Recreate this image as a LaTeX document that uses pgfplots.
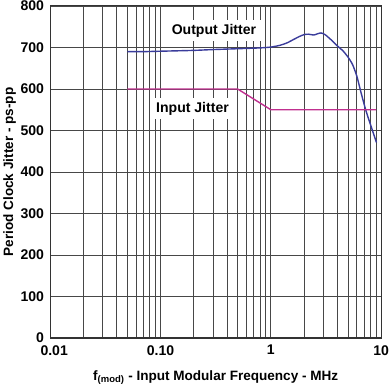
\documentclass[border=0pt]{standalone}
\usepackage{fontspec}
\setmainfont{Liberation Sans}
\usepackage{pgfplots}
\pgfplotsset{compat=1.18}
\definecolor{outblue}{RGB}{58,60,155}
\definecolor{inpink}{RGB}{192,48,143}
\begin{document}
\begin{tikzpicture}
\begin{axis}[
  xmode=log, xmin=0.01, xmax=10, ymin=0, ymax=800,
  width=330pt, height=331pt, scale only axis,
  xtick={0.01,0.1,1,10}, xticklabels={\hspace*{8pt}0.01,0.10,1,10},
  ytick={0,100,200,300,400,500,600,700,800},
  minor xtick={0.02,0.03,0.04,0.05,0.06,0.07,0.08,0.09,0.2,0.3,0.4,0.5,0.6,0.7,0.8,0.9,2,3,4,5,6,7,8,9},
  grid=both,
  major grid style={draw=black!72, line width=0.8pt},
  minor grid style={draw=black!72, line width=0.8pt},
  axis line style={draw=black!80, line width=1pt},
  major tick length=0pt, minor tick length=0pt,
  /pgf/number format/assume math mode=true,
  tick label style={font=\fontsize{14}{16}\selectfont\bfseries},
  xticklabel style={yshift=-6pt, inner sep=1pt},
  yticklabel style={xshift=-5pt, inner sep=1pt},
  label style={font=\fontsize{13.5}{15}\selectfont\bfseries},
  xlabel={f\textsubscript{(mod)} - Input Modular Frequency - MHz},
  ylabel={Period Clock Jitter - ps-pp},
  xlabel style={yshift=-11pt},
  ylabel style={yshift=0pt},
]
\addplot[color=outblue, line width=1.4pt, smooth, tension=0.4] coordinates {
(0.05,690) (0.07,690) (0.1,691) (0.2,693) (0.3,695) (0.5,697) (0.8,699)
(1.0,701) (1.2,705) (1.4,711) (1.6,719) (1.8,726) (2.0,731) (2.2,732)
(2.45,730) (2.65,733) (2.85,735) (3.1,731) (3.5,719) (4.0,704) (4.5,692)
(5.0,677) (5.5,659) (6.0,632) (6.4,603) (6.8,576) (7.2,552) (7.6,532)
(8.0,514) (8.5,493) (9.06,471)
};
\addplot[color=inpink, line width=1.4pt] coordinates {
(0.05,600) (0.5,600) (1.0,550) (9.0,550)
};
\node[fill=white, inner xsep=5pt, inner ysep=4pt, font=\fontsize{14}{16}\selectfont\bfseries] at (axis cs:0.305,741) {Output Jitter};
\node[fill=white, inner xsep=5pt, inner ysep=4pt, font=\fontsize{14}{16}\selectfont\bfseries] at (axis cs:0.195,553) {Input Jitter};
\end{axis}
\end{tikzpicture}
\end{document}
